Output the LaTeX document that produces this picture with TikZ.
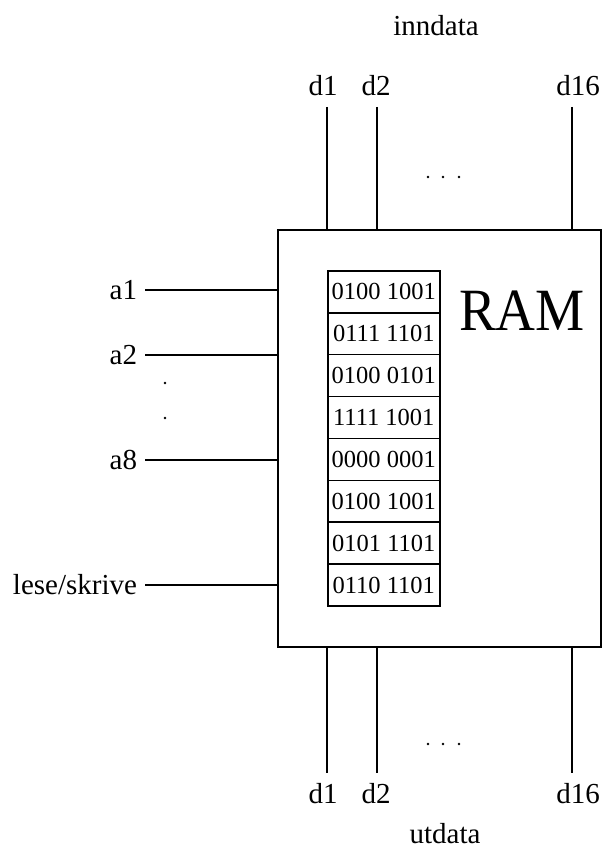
\documentclass[tikz,border=0pt]{standalone}
\usepackage{fontspec}
\setmainfont{Liberation Serif}
\begin{document}
\begin{tikzpicture}[x=1pt,y=-1pt,line width=2pt,
  lbl/.style={font=\fontsize{29}{29}\selectfont,inner sep=0pt},
  cell/.style={draw,line width=1.6pt,minimum width=112pt,minimum height=41.9pt,inner sep=0pt,anchor=north west,font=\fontsize{24.5}{24.5}\selectfont},
  wire/.style={line width=2pt},
  dotmark/.style={fill,circle,inner sep=0pt,minimum size=2.8pt}]
\useasboundingbox (0,0) rectangle (602,850);
% RAM box
\node[draw,minimum width=323pt,minimum height=417pt,anchor=north west,inner sep=0pt] (ram) at (277,229) {};
\node[font=\fontsize{60}{60}\selectfont,inner sep=0pt,xscale=0.92] (ramlbl) at (522,311) {RAM};
% memory cells
\foreach \v [count=\i from 0] in {0100 1001,0111 1101,0100 0101,1111 1001,0000 0001,0100 1001,0101 1101,0110 1101}
  \node[cell] (c\i) at (327,{270+\i*41.9}) {\v};
% top data lines
\node[lbl] (inndata) at (436,26) {inndata};
\node[lbl] (td1) at (323,86) {d1};
\node[lbl] (td2) at (376,86) {d2};
\node[lbl] (td16) at (578,86) {d16};
\coordinate (ts1) at (327,107);
\coordinate (ts2) at (377,107);
\coordinate (ts16) at (572,107);
\draw[wire] (ts1) -- (ts1 |- ram.north);
\draw[wire] (ts2) -- (ts2 |- ram.north);
\draw[wire] (ts16) -- (ts16 |- ram.north);
\foreach \x in {428,443,459} \node[dotmark] at (\x,177) {};
% bottom data lines
\node[lbl] (bd1) at (323,794) {d1};
\node[lbl] (bd2) at (376,794) {d2};
\node[lbl] (bd16) at (578,794) {d16};
\node[lbl] (utdata) at (445,834) {utdata};
\coordinate (be1) at (327,773);
\coordinate (be2) at (377,773);
\coordinate (be16) at (572,773);
\draw[wire] (be1 |- ram.south) -- (be1);
\draw[wire] (be2 |- ram.south) -- (be2);
\draw[wire] (be16 |- ram.south) -- (be16);
\foreach \x in {428,443,459} \node[dotmark] at (\x,744) {};
% address lines
\node[lbl,anchor=east] (a1) at (138,290) {a1};
\node[lbl,anchor=east] (a2) at (138,355) {a2};
\node[lbl,anchor=east] (a8) at (138,460) {a8};
\node[lbl,anchor=east] (rw) at (138,585) {lese/skrive};
\foreach \n in {a1,a2,a8,rw}
  \draw[wire] ([xshift=7pt]\n.east) -- (\n.east -| ram.west);
\node[dotmark] at (165,383) {};
\node[dotmark] at (165,418) {};
\end{tikzpicture}
\end{document}
